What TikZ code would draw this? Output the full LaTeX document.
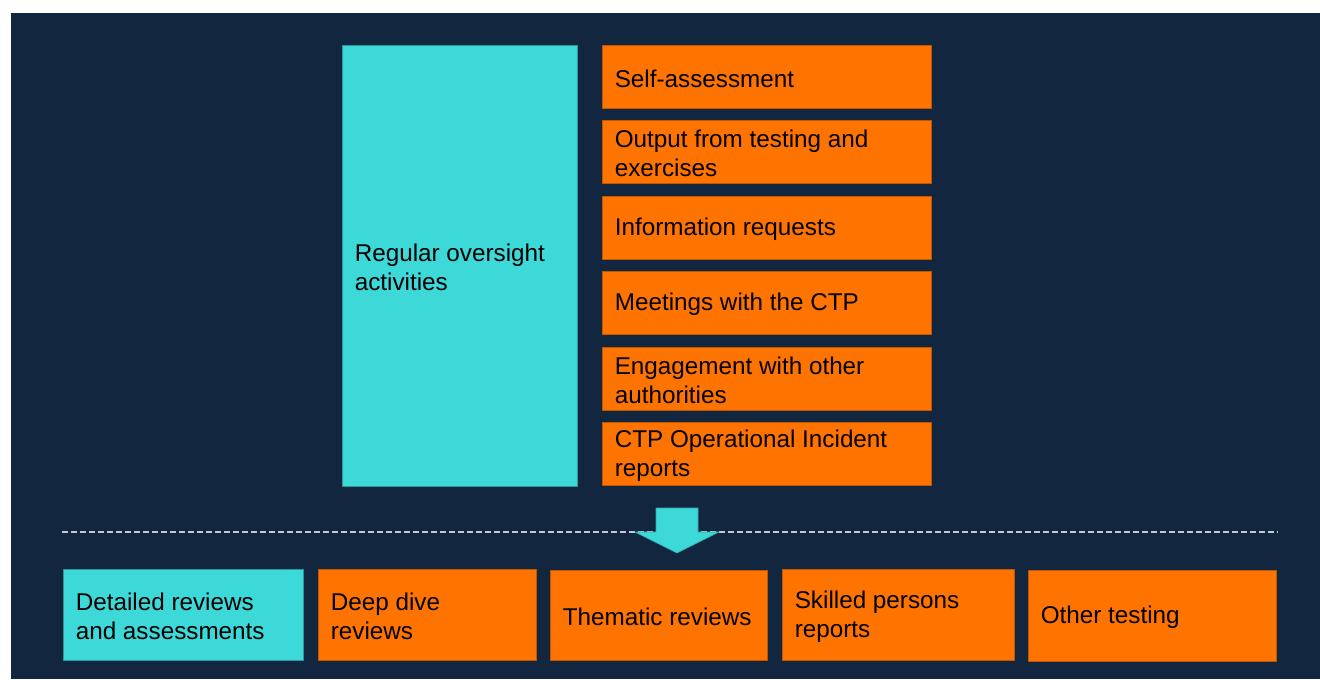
\documentclass[tikz,border=0pt]{standalone}
\usepackage{fontspec}
\setmainfont{Liberation Sans}
\definecolor{navy}{HTML}{13263F}
\definecolor{tcyan}{HTML}{3DD8D8}
\definecolor{torange}{HTML}{FF7300}
\definecolor{dashgray}{HTML}{C4CAD2}
\tikzset{
  cbox/.style={fill=tcyan, draw=tcyan!70!black, line width=0.6pt, inner sep=0pt, anchor=north west},
  obox/.style={fill=torange, draw=torange!75!black, line width=0.6pt, inner sep=0pt, anchor=north west},
  txt/.style={font=\fontsize{18.2}{21.9}\selectfont, text=black, align=left, inner sep=0pt, anchor=west},
}
\newcommand\pxbox[7]{%
  \pgfmathsetmacro\bw{#5*0.75}\pgfmathsetmacro\bh{#6*0.75}%
  \node[#2, minimum width=\bw pt, minimum height=\bh pt] (#1) at (#3,#4) {};%
  \node[txt] (#1-t) at ([xshift=9.4pt,yshift=-1.3pt]#1.west) {#7};}
\begin{document}
\begin{tikzpicture}[x=0.75pt,y=-0.75pt]
\useasboundingbox (0,0) rectangle (1320,679);
\fill[white] (0,0) rectangle (1320,679);
\fill[navy] (11,13) rectangle (1320,679);
% top group
\pxbox{reg}{cbox}{342}{45}{235}{441}{Regular oversight\\activities}
\pxbox{r1}{obox}{602}{45}{329}{63}{Self-assessment}
\pxbox{r2}{obox}{602}{120}{329}{63}{Output from testing and\\exercises}
\pxbox{r3}{obox}{602}{195.5}{329}{63}{Information requests}
\pxbox{r4}{obox}{602}{271}{329}{63}{Meetings with the CTP}
\pxbox{r5}{obox}{602}{346.5}{329}{63}{Engagement with other\\authorities}
\pxbox{r6}{obox}{602}{422}{329}{63}{CTP Operational Incident\\reports}
% dashed separator
\coordinate (dl) at (62,532);
\coordinate (dr) at (1278,532);
\draw[dashgray, line width=1.4pt, dash pattern=on 4.5pt off 2.25pt] (dl) -- (dr);
% arrow
\fill[tcyan, draw=tcyan!80!black, line width=0.4pt] (656,508) -- (698,508) -- (698,532) -- (719,532) -- (677,553) -- (635,532) -- (656,532) -- cycle;
% bottom row
\pxbox{b1}{cbox}{63}{569}{240}{91}{Detailed reviews\\and assessments}
\pxbox{b2}{obox}{318}{569}{218}{91}{Deep dive\\reviews}
\pxbox{b3}{obox}{550}{570}{217}{90}{Thematic reviews}
\pxbox{b4}{obox}{782}{569}{232}{91}{Skilled persons\\reports}
\pxbox{b5}{obox}{1028}{570}{248}{91}{Other testing}
\end{tikzpicture}
\end{document}
